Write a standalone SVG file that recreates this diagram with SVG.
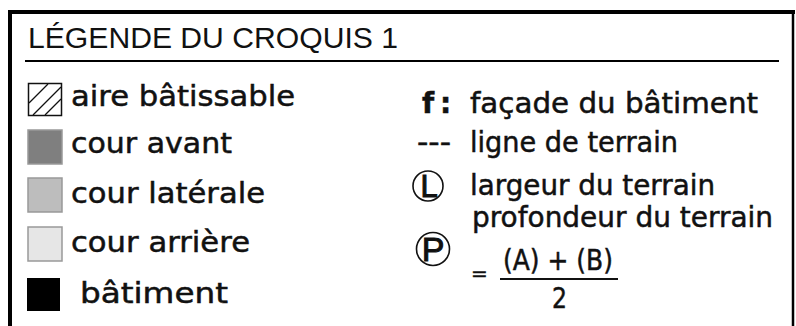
<svg xmlns="http://www.w3.org/2000/svg" width="796" height="326" viewBox="0 0 796 326">
<style>
.t{font-family:"DejaVu Sans","Open Sans",sans-serif;font-size:28px;fill:#111;stroke:#111;stroke-width:0.5}
.title{font-family:"Liberation Sans",Arial,sans-serif;font-size:30px;fill:#111}
.sw{stroke:#999;stroke-width:1.5}
.circ{fill:none;stroke:#111;stroke-width:1.6}
.lt{font-family:"Liberation Sans",Arial,sans-serif;fill:#111;stroke:#111;stroke-width:1;text-anchor:middle}
</style>
<rect width="796" height="326" fill="#fff"/>
<g id="frame" stroke="#000" fill="none">
<line x1="10" y1="10" x2="10" y2="326" stroke-width="4"/>
<line x1="8" y1="12" x2="795" y2="12" stroke-width="4"/>
<line x1="793" y1="11" x2="793" y2="326" stroke-width="2.5"/>
<line x1="25" y1="61" x2="779" y2="61" stroke-width="2"/>
</g>
<g id="title"><text class="title" x="28" y="48" textLength="370" lengthAdjust="spacingAndGlyphs">LÉGENDE DU CROQUIS 1</text></g>
<g id="aire">
<rect x="28.5" y="83.5" width="33" height="32" fill="#fff" stroke="#111" stroke-width="1.5"/>
<g stroke="#111" stroke-width="1.2"><line x1="29" y1="103" x2="48" y2="84"/><line x1="33" y1="115" x2="61" y2="87"/><line x1="45" y1="115" x2="61" y2="99"/></g>
<text class="t" x="71" y="106" textLength="224" lengthAdjust="spacingAndGlyphs">aire bâtissable</text>
</g>
<g id="cour-avant">
<rect class="sw" x="28" y="130" width="34" height="34" fill="#7f7f7f"/>
<text class="t" x="71" y="153" textLength="161" lengthAdjust="spacingAndGlyphs">cour avant</text>
</g>
<g id="cour-laterale">
<rect class="sw" x="28" y="178" width="34" height="34" fill="#bdbdbd"/>
<text class="t" x="71" y="203" textLength="194" lengthAdjust="spacingAndGlyphs">cour latérale</text>
</g>
<g id="cour-arriere">
<rect class="sw" x="28" y="227" width="34" height="34" fill="#e6e6e6"/>
<text class="t" x="71" y="252" textLength="179" lengthAdjust="spacingAndGlyphs">cour arrière</text>
</g>
<g id="batiment">
<rect x="27" y="278" width="33" height="33" fill="#000"/>
<text class="t" x="80" y="303" textLength="148" lengthAdjust="spacingAndGlyphs">bâtiment</text>
</g>
<g id="facade">
<text class="t" x="422" y="113" font-weight="bold">f</text>
<text class="t" x="440" y="113" font-weight="bold">:</text>
<text class="t" x="470" y="113" textLength="288" lengthAdjust="spacingAndGlyphs">façade du bâtiment</text>
</g>
<g id="ligne">
<text class="t" x="417" y="152" textLength="34" lengthAdjust="spacingAndGlyphs">---</text>
<text class="t" x="470" y="152" textLength="208" lengthAdjust="spacingAndGlyphs">ligne de terrain</text>
</g>
<g id="largeur">
<circle class="circ" cx="428" cy="186" r="15"/>
<text class="lt" x="429" y="197" style="font-size:31px">L</text>
<text class="t" x="470" y="195" textLength="245" lengthAdjust="spacingAndGlyphs">largeur du terrain</text>
</g>
<g id="profondeur">
<circle class="circ" cx="433" cy="249" r="16.5"/>
<text class="lt" x="433" y="261" style="font-size:34px">P</text>
<text class="t" x="472" y="227" textLength="301" lengthAdjust="spacingAndGlyphs">profondeur du terrain</text>
<text class="t" x="471" y="280" style="font-size:20px">=</text>
<text class="t" x="503" y="270" textLength="110" lengthAdjust="spacingAndGlyphs">(A) + (B)</text>
<line x1="500" y1="279" x2="618" y2="279" stroke="#111" stroke-width="2"/>
<text class="t" x="552" y="308" textLength="15" lengthAdjust="spacingAndGlyphs">2</text>
</g>
</svg>
